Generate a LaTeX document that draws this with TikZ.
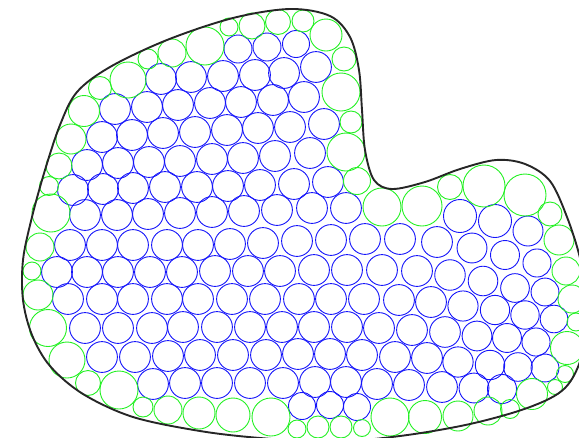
\documentclass[tikz,border=0pt]{standalone}
\definecolor{cblue}{RGB}{20,20,250}
\definecolor{cgreen}{RGB}{35,240,35}
\begin{document}
\begin{tikzpicture}[x=1pt,y=-1pt,
  bc/.style={draw=cblue, line width=0.9pt},
  gc/.style={draw=cgreen, line width=0.9pt},
  outline/.style={draw=black!85, line width=1.9pt}]
\useasboundingbox (0,0) rectangle (579,437);
\clip (0,0) rectangle (579,437);
% blue packing, main rows
\foreach \x/\y in {
 161/79,191/77,223/76,255/75,284/73,316/67,
 115/109,147/107,178/105,210/103,241/102,273/100,304/97,
 102/137,132/135,163/133,195/132,227/130,258/128,290/127,324/124,
 87/165,118/163,149/162,180/161,212/159,243/158,275/156,310/153,
 73/190,103/189,133/188,165/187,197/187,228/186,260/185,294/184,328/182,
 85/215,117/215,148/214,180/213,212/212,244/211,277/210,312/208,346/208,
 70/245,102/245,133/245,167/245,198/245,230/244,263/243,297/241,331/240,365/239,400/239,437/242,472/248,505/255,537/263,
 57/272,87/272,118/272,150/272,182/272,215/271,248/271,280/271,314/270,347/270,382/270,417/271,450/275,483/281,515/288,545/292,
 68/299,102/299,133/299,167/299,198/299,232/299,265/299,299/299,331/299,364/299,399/300,431/302,463/306,495/310,525/315,554/319,
 85/328,118/328,152/328,183/327,217/327,250/327,282/327,314/327,347/327,379/328,412/330,445/332,477/336,507/338,536/342,
 102/357,135/357,168/356,200/355,233/355,266/355,298/354,330/354,362/355,395/357,427/358,458/362,490/365,518/367,545/368,
 153/384,185/383,217/383,250/383,283/383,315/382,346/382,377/384,409/385,442/387,474/388,502/389}
 {\pgfmathsetmacro\rr{\x<440?15.4:15.4-(\x-440)*0.014}
  \draw[bc] (\x,\y) circle[radius=\rr];}
% blue, irregular ones
\foreach \x/\y/\r in {238/49/14,267/47/14,296/44/13.5,
 460/216/16.5,495/221/16.5,528/231/15,
 302/406/13.5,330/405/13.5,357/407/13.5}
 {\draw[bc] (\x,\y) circle[radius=\r];}
% green boundary circles
\foreach \x/\y/\r in {
 229/27/9,252/26/13,278/22/12.5,303/21/11,326/35/16,344/59/12,341/92/19,351/122/11,
 346/152/19,357/181/13.5,382/207/19,422/206/20,450/187/12.5,484/186/21,525/195/21,
 550/214/12,559/240/15,566/271/14,572/299/14,576/322/9,567/348/16.5,565/374/8.5,
 555/387/7.5,532/394/15.5,510/409/9.5,488/411/14,458/416/15,425/417/16.5,390/417/19,
 362/428/8.5,341/427/11,318/427/11,297/429/9,271/417/19,233/415/17,199/413/16,
 168/410/14,143/407/10,119/390/19,88/383/12.5,67/360/18,48/328/18.5,38/295/15,
 32/271/9,40/247/14,51/213/19,49/186/9.5,59/166/13,71/139/15,84/111/15.5,
 100/88/11.5,128/80/18,148/59/10,172/53/14,205/46/19}
 {\draw[gc] (\x,\y) circle[radius=\r];}
% outline
\draw[outline] plot[smooth cycle, tension=0.55] coordinates {
 (290,9) (330,16) (350,37) (359,70) (362,110) (365,150) (374,180) (392,189)
 (425,182) (460,169) (496,160) (525,164) (550,181) (567,217) (580,258)
 (588,305) (582,355) (565,388) (530,407) (470,424) (400,436) (330,442)
 (260,438) (200,431) (133,417) (83,394) (50,366) (32,335) (23,300) (23,260)
 (32,217) (45,170) (60,125) (77,92) (110,67) (167,40) (233,18)};
\end{tikzpicture}
\end{document}
